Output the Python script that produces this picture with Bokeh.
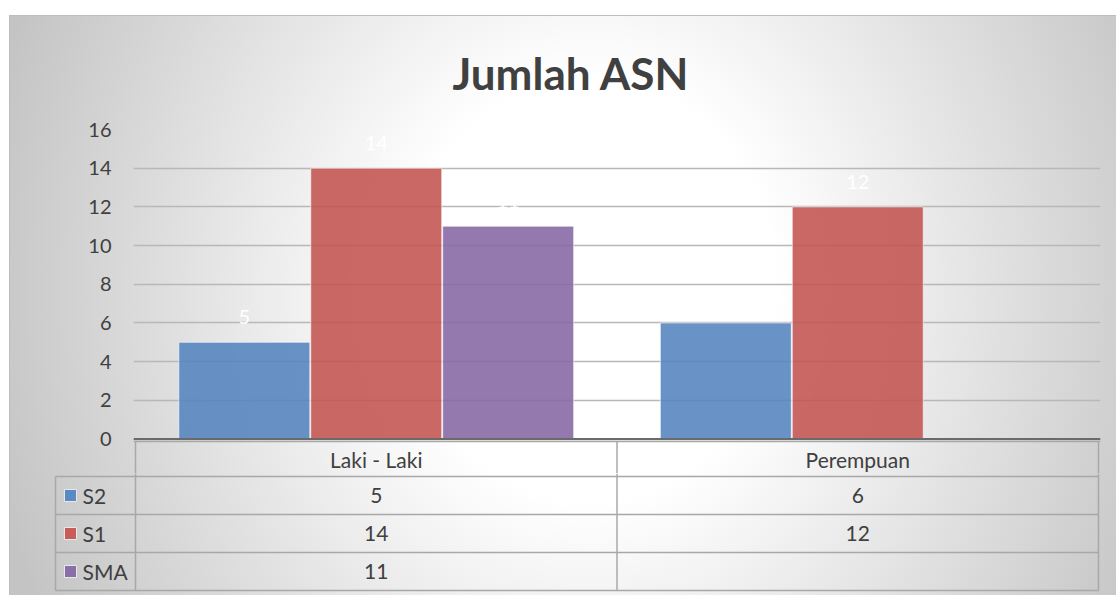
from bokeh.plotting import figure
from bokeh.models import ColumnDataSource, Range1d, FixedTicker, Span
from bokeh.layouts import column
from bokeh.core.properties import value
from bokeh.embed import file_html
from bokeh.resources import INLINE

# ---------------- data ----------------
categories = ["Laki - Laki", "Perempuan"]
series_names = ["S2", "S1", "SMA"]
s2_values = [5, 6]
s1_values = [14, 12]
sma_values = [11, None]
series_values = [s2_values, s1_values, sma_values]
y_ticks = [0, 2, 4, 6, 8, 10, 12, 14, 16]
title_text = "Jumlah ASN"

# ---------------- styles ----------------
FONT = "Lato"
TEXT_COLOR = "#404040"
bar_colors = ["#5484be", "#c25350", "#8467a3"]
legend_colors = ["#5a8ac4", "#c85c59", "#8a6ea8"]
RULE_COLOR = "#a8a8a8"
BAR_W = 0.272
offsets = [-0.274, 0.0, 0.274]

W = 1116
H_TOTAL = 595
H_TOP = 473
H_BOT = H_TOTAL - H_TOP
PX_X = 481.5          # pixels per category
PX_Y = 309.5 / 16     # pixels per value unit
n_cat = len(categories)
n_ser = len(series_names)

# ---------------- top chart (bars + table header) ----------------
pad = 2 / PX_X
y0 = -(H_TOP - 438.5) / PX_Y
p = figure(width=W, height=H_TOP, x_range=Range1d(-pad, n_cat + pad),
           y_range=Range1d(y0, 16), output_backend="svg", toolbar_location=None,
           min_border_left=133, min_border_right=16, min_border_top=129, min_border_bottom=0)
p.frame_align = False
p.border_fill_color = None
p.background_fill_color = None
p.outline_line_color = None

p.title.text = title_text
p.title.align = "left"
p.title.offset = 319
p.title.text_font = FONT
p.title.text_font_style = "bold"
p.title.text_font_size = "44px"
p.title.text_color = TEXT_COLOR
p.title.standoff = 61

p.xaxis.visible = False
p.yaxis.ticker = FixedTicker(ticks=y_ticks)
p.yaxis.axis_line_color = None
p.yaxis.major_tick_line_color = None
p.yaxis.minor_tick_line_color = None
p.yaxis.major_label_text_font = FONT
p.yaxis.major_label_text_font_size = "20px"
p.yaxis.major_label_text_color = TEXT_COLOR
p.yaxis.major_label_standoff = 16
p.xgrid.visible = False
p.ygrid.ticker = FixedTicker(ticks=y_ticks)
p.ygrid.grid_line_color = "#b8b8b8"
p.ygrid.grid_line_width = 1.5

for name, vals, col, off in zip(series_names, series_values, bar_colors, offsets):
    xs = [i + 0.5 + off for i, v in enumerate(vals) if v is not None]
    tops = [v for v in vals if v is not None]
    src = ColumnDataSource(dict(x=xs, top=tops, lab=[str(v) for v in tops]))
    p.vbar(x="x", top="top", width=BAR_W, bottom=0, source=src,
           fill_color=col, fill_alpha=0.88, line_color="#ffffff", line_alpha=0.6, line_width=1)
    p.text(x="x", y="top", text="lab", source=src,
           text_color="#ffffff", text_font=value(FONT), text_font_size="20px",
           text_align="center", text_baseline="middle", y_offset=-25)

# base line, top rule of the data table, header cells
table_top = -2.5 / PX_Y
p.add_layout(Span(location=table_top, dimension="width", line_color=RULE_COLOR, line_width=1.5))
p.add_layout(Span(location=0, dimension="width", line_color="#6a6a6a", line_width=2))
p.segment(x0=list(range(n_cat + 1)), y0=[table_top] * (n_cat + 1),
          x1=list(range(n_cat + 1)), y1=[y0] * (n_cat + 1), line_color=RULE_COLOR, line_width=1.5)
header_y = -(459 - 438.5) / PX_Y
p.text(x=[i + 0.5 for i in range(n_cat)], y=[header_y] * n_cat, text=categories,
       text_color=TEXT_COLOR, text_font=value(FONT), text_font_size="21px",
       text_align="center", text_baseline="middle")

# ---------------- data table rows ----------------
x_start = -82 / PX_X
x_end = x_start + (W - 53 - 16) / PX_X
ROW = 38.0
y_top = n_ser + (476 - H_TOP) / ROW
y_bot = -(H_TOTAL - 590) / ROW

t = figure(width=W, height=H_BOT, x_range=Range1d(x_start, x_end), y_range=Range1d(y_bot, y_top),
           output_backend="svg", toolbar_location=None,
           min_border_left=53, min_border_right=16, min_border_top=0, min_border_bottom=0)
t.frame_align = False
t.border_fill_color = None
t.background_fill_color = None
t.outline_line_color = None
t.xaxis.visible = False
t.yaxis.visible = False
t.grid.visible = False

label_left = -80 / PX_X

hy = [n_ser - i for i in range(n_ser + 1)]
t.segment(x0=[label_left] * len(hy), y0=hy, x1=[n_cat] * len(hy), y1=hy,
          line_color=RULE_COLOR, line_width=1.5)
vx = [label_left] + list(range(n_cat + 1))
vy1 = [n_ser] + [y_top] * (n_cat + 1)
t.segment(x0=vx, y0=[0] * len(vx), x1=vx, y1=vy1, line_color=RULE_COLOR, line_width=1.5)

row_y = [n_ser - i - 0.5 for i in range(n_ser)]
t.scatter(x=[label_left + 15 / PX_X] * n_ser, y=row_y, marker="square", size=12,
          fill_color=legend_colors, line_color="#e8e8e8", line_width=1)
t.text(x=[label_left] * n_ser, y=row_y, text=series_names, x_offset=27,
       text_color=TEXT_COLOR, text_font=value(FONT), text_font_size="21px",
       text_align="left", text_baseline="middle")
cell_x, cell_y, cell_t = [], [], []
for i, vals in enumerate(series_values):
    for j, v in enumerate(vals):
        cell_x.append(j + 0.5)
        cell_y.append(row_y[i])
        cell_t.append("" if v is None else str(v))
t.text(x=cell_x, y=cell_y, text=cell_t, text_color=TEXT_COLOR, text_font=value(FONT),
       text_font_size="21px", text_align="center", text_baseline="middle")

bg = ("linear-gradient(#ffffff,#ffffff) 0 0/100% 15px no-repeat, "
      "linear-gradient(#ffffff,#ffffff) 0 0/9px 100% no-repeat, "
      "linear-gradient(#bdbdbd,#bdbdbd) 9px 15px/100% 1px no-repeat, "
      "linear-gradient(#bdbdbd,#bdbdbd) 9px 15px/1px 100% no-repeat, "
      "radial-gradient(ellipse 620px 700px at 590px 290px, #ffffff 0%, #ffffff 30%, #c4c4c4 100%)")
layout = column(p, t, spacing=0, width=W, height=H_TOTAL, styles={"background": bg})

open("out.html", "w").write(file_html(layout, INLINE))
